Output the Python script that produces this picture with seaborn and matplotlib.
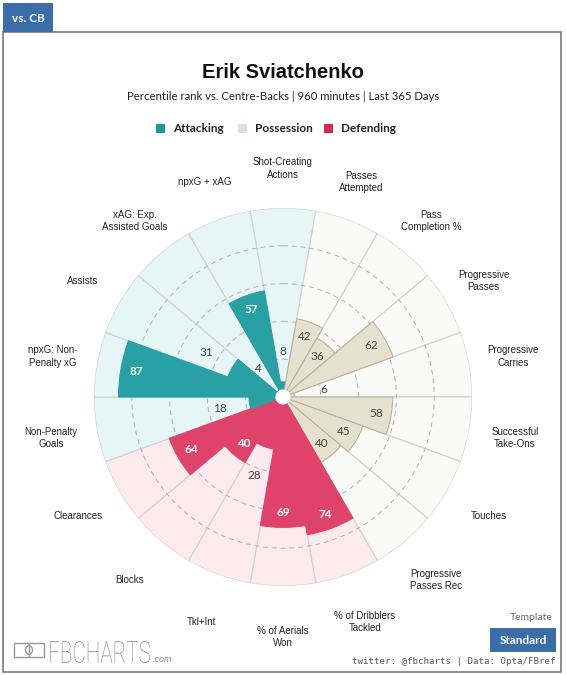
import numpy as np
import pandas as pd
import matplotlib
matplotlib.use('Agg')
import matplotlib.pyplot as plt
import seaborn as sns
from matplotlib.patches import Rectangle, Circle, PathPatch
from matplotlib.textpath import TextPath
from matplotlib.font_manager import FontProperties
from matplotlib.transforms import Affine2D, IdentityTransform

# Data (clockwise from the top)
labels = ["Shot-Creating\nActions", "Passes\nAttempted", "Pass\nCompletion %",
          "Progressive\nPasses", "Progressive\nCarries", "Successful\nTake-Ons",
          "Touches", "Progressive\nPasses Rec", "% of Dribblers\nTackled",
          "% of Aerials\nWon", "Tkl+Int", "Blocks", "Clearances",
          "Non-Penalty\nGoals", "npxG: Non-\nPenalty xG", "Assists",
          "xAG: Exp.\nAssisted Goals", "npxG + xAG"]
values = [8, 42, 36, 62, 6, 58, 45, 40, 74, 69, 28, 40, 64, 18, 87, 31, 4, 57]
groups = (["Attacking"] + ["Possession"] * 7 + ["Defending"] * 5 + ["Attacking"] * 5)
group_names = ["Attacking", "Possession", "Defending"]

title = "Erik Sviatchenko"
subtitle = "Percentile rank vs. Centre-Backs | 960 minutes | Last 365 Days"

df = pd.DataFrame({"label": labels, "value": values, "group": groups})

sns.set_theme(style="white")
plt.rcParams['font.family'] = ['Liberation Sans', 'DejaVu Sans']

bar_col = dict(zip(group_names, sns.color_palette(["#29a0a3", "#e6e1cf", "#e0436a"])))
bg_col = {"Attacking": "#e6f5f6", "Possession": "#fafaf8", "Defending": "#fdeaef"}
edge_col = {"Attacking": "#29a0a3", "Possession": "#b9b29c", "Defending": "#e0436a"}
legend_col = {"Attacking": "#1a9a9c", "Possession": "#e4dfd0", "Defending": "#d9264e"}

W, H = 566, 675
fig = plt.figure(figsize=(W / 100, H / 100), dpi=100)
fig.patch.set_facecolor("white")

# frame and tab
fig.patches.append(Rectangle((3 / W, 1 - 672 / H), 558 / W, 640 / H, transform=fig.transFigure,
                             facecolor="none", edgecolor="#7a7a7a", lw=1.2))
fig.patches.append(Rectangle((3 / W, 1 - 32 / H), 50 / W, 29 / H, transform=fig.transFigure,
                             facecolor="#3b6ea8", edgecolor="none"))
fig.text(28 / W, 1 - 18 / H, "vs. CB", color="white", fontsize=8.5, fontweight="bold",
         family="Lato", ha="center", va="center")

fig.text(0.5, 1 - 72 / H, title, fontsize=14.5, fontweight="bold", ha="center", va="center",
         color="#111111")
fig.text(0.5, 1 - 97 / H, subtitle, fontsize=8.2, ha="center", va="center", family="Lato",
         color="#222222")

# legend
leg_x = [160, 242, 328]
for name, x in zip(group_names, leg_x):
    fig.patches.append(Rectangle(((x - 4.5) / W, 1 - 133 / H), 9 / W, 9 / H,
                                 transform=fig.transFigure, facecolor=legend_col[name],
                                 edgecolor="none"))
    fig.text((x + 13) / W, 1 - 128.5 / H, name, fontsize=8.5, fontweight="bold", family="Lato",
             ha="left", va="center", color="#222222")

# polar chart
cx, cy, R = 283, 397, 189
ax = fig.add_axes([(cx - R) / W, 1 - (cy + R) / H, 2 * R / W, 2 * R / H], projection="polar")
ax.set_theta_zero_location("N")
ax.set_theta_direction(-1)
ax.set_ylim(0, 100)
ax.axis("off")

theta = np.deg2rad(np.arange(len(df)) * 20)
width = np.deg2rad(20)

ax.bar(theta, [100] * len(df), width=width, color=[bg_col[g] for g in df.group],
       edgecolor="#d2d2d2", lw=0.8, zorder=1)
circ = np.linspace(0, 2 * np.pi, 400)
for r in [20, 40, 60, 80]:
    ax.plot(circ, [r] * len(circ), color="#b0b0b0", lw=0.7, ls=(0, (5, 4)), zorder=2)
ax.bar(theta, df.value, width=width, color=[bar_col[g] for g in df.group],
       edgecolor=[edge_col[g] for g in df.group], lw=0.8, zorder=3)
ax.bar(0, 4, width=2 * np.pi, color="white", edgecolor="none", zorder=4)

for t, (_, row) in zip(theta, df.iterrows()):
    v = row.value
    if v >= 35:
        r = v - 8
        inside = True
    else:
        r = v + 16
        inside = False
    if inside and row.group != "Possession":
        ax.text(t, r, str(v), color="white", fontsize=8.5, fontweight="bold", family="Lato",
                ha="center", va="center", zorder=5)
    else:
        ax.text(t, r, str(v), color="#444444", fontsize=8.5, family="Lato",
                ha="center", va="center", zorder=5)
    lr = 121 + 3 * (1 - np.cos(t))
    ax.text(t, lr, row.label, fontsize=7, ha="center", va="center", color="#222222",
            linespacing=1.3, clip_on=False)

# footer
fig.text(553 / W, 1 - 617 / H, "Template", fontsize=7.5, family="Lato", color="#666666",
         ha="right", va="center")
fig.patches.append(Rectangle((490 / W, 1 - 652 / H), 66 / W, 24 / H, transform=fig.transFigure,
                             facecolor="#3b6ea8", edgecolor="none"))
fig.text(523 / W, 1 - 640 / H, "Standard", fontsize=8.5, fontweight="bold", family="Lato",
         color="white", ha="center", va="center")
fig.text(556 / W, 1 - 662 / H, "twitter: @fbcharts | Data: Opta/FBref", fontsize=6.6,
         family="DejaVu Sans Mono", color="#555555", ha="right", va="center")

# logo
fig.patches.append(Rectangle((14 / W, 1 - 657 / H), 30 / W, 14 / H, transform=fig.transFigure,
                             facecolor="none", edgecolor="#999999", lw=1))
fig.lines.append(plt.Line2D([29 / W, 29 / W], [1 - 657 / H, 1 - 643 / H],
                            transform=fig.transFigure, color="#999999", lw=1))
fig.patches.append(Circle((29 / W, 1 - 650 / H), 3.5 / W, transform=fig.transFigure,
                          facecolor="none", edgecolor="#999999", lw=1))
tp = TextPath((0, 0), "FBCHARTS", size=30, prop=FontProperties(family="Roboto", weight="light"))
ext = tp.get_extents()
sx = 100 / ext.width
sy = 22 / ext.height
tr = Affine2D().translate(-ext.x0, -ext.y0).scale(sx, sy).translate(50, H - 663)
fig.patches.append(PathPatch(tr.transform_path(tp), transform=IdentityTransform(),
                             facecolor="#858585", edgecolor="none"))
fig.text(153 / W, 1 - 660 / H, ".com", fontsize=6.5, style="italic", color="#888888",
         ha="left", va="center")

fig.savefig("out.png", dpi=100, facecolor="white")
